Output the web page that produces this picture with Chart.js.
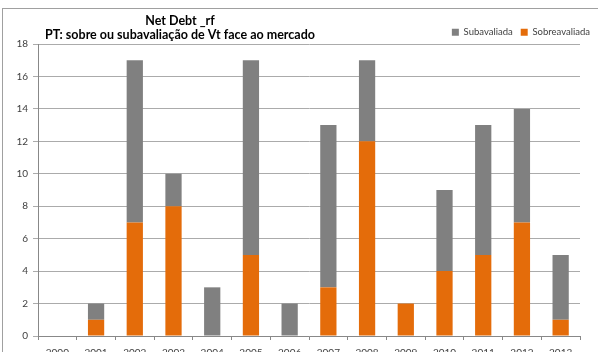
<!DOCTYPE html>
<html>
<head>
<meta charset="utf-8">
<script src="https://cdn.jsdelivr.net/npm/chart.js@4/dist/chart.umd.min.js"></script>
<style>
  html, body { margin: 0; padding: 0; background: #fff; overflow: hidden; }
  #wrap { position: relative; width: 598px; height: 352px; overflow: hidden; }
  #frame { position: absolute; left: 2px; top: 8px; width: 700px; height: 400px;
           border-left: 1px solid #a0a0a0; border-top: 1px solid #a0a0a0; pointer-events: none; }
  canvas { position: absolute; left: 0; top: 0; }
</style>
</head>
<body>
<div id="wrap">
  <canvas id="c" width="598" height="366"></canvas>
  <div id="frame"></div>
</div>
<script>
// Number of companies per year, split by valuation versus market
const years = ['2000', '2001', '2002', '2003', '2004', '2005', '2006',
               '2007', '2008', '2009', '2010', '2011', '2012', '2013'];
const sobreavaliada = [0, 1, 7, 8, 0, 5, 0, 3, 12, 2, 4, 5, 7, 1];
const subavaliada   = [0, 1, 10, 2, 3, 12, 2, 10, 5, 0, 5, 8, 7, 4];
const titleText = 'Net Debt _rf';
const subtitleText = 'PT: sobre ou subavaliação de Vt face ao mercado';

const FONT = 'Lato, "Open Sans", sans-serif';

// Headline text sits above the plot, left of the legend
const headingPlugin = {
  id: 'heading',
  afterDraw(chart) {
    const ctx = chart.ctx;
    ctx.save();
    ctx.fillStyle = '#000';
    ctx.textAlign = 'center';
    ctx.textBaseline = 'alphabetic';
    ctx.font = 'bold 12.5px ' + FONT;
    ctx.fillText(titleText, 180, 25);
    ctx.fillText(subtitleText, 180, 39);
    ctx.restore();
  }
};

new Chart(document.getElementById('c'), {
  type: 'bar',
  data: {
    labels: years,
    datasets: [
      { label: 'Sobreavaliada', data: sobreavaliada, backgroundColor: '#e46c0a',
        borderWidth: 0, barPercentage: 0.42, categoryPercentage: 1 },
      { label: 'Subavaliada', data: subavaliada, backgroundColor: '#808080',
        borderWidth: 0, barPercentage: 0.42, categoryPercentage: 1 }
    ]
  },
  options: {
    responsive: false,
    animation: false,
    layout: { padding: { left: 0, right: 0, top: 19.5, bottom: 0 } },
    plugins: {
      legend: {
        position: 'top',
        align: 'end',
        reverse: true,
        maxHeight: 24.5,
        labels: {
          boxWidth: 7, boxHeight: 7, padding: 8,
          color: '#404040',
          font: { family: FONT, size: 9.5 }
        }
      },
      title: { display: false },
      tooltip: { enabled: false }
    },
    scales: {
      x: {
        stacked: true,
        grid: { display: true, drawOnChartArea: false, drawTicks: true, tickLength: 4,
                offset: true, color: '#888' },
        border: { display: true, color: '#888' },
        ticks: { color: '#404040', font: { family: FONT, size: 10 }, padding: 7,
                 maxRotation: 0, autoSkip: false },
        afterFit(scale) { scale.height = 30; }
      },
      y: {
        stacked: true,
        min: 0, max: 18,
        grid: { color: '#ababab', drawTicks: true, tickLength: 5 },
        border: { display: true, color: '#888' },
        ticks: { stepSize: 2, color: '#404040', font: { family: FONT, size: 10 }, padding: 5 },
        afterFit(scale) { scale.width = 38; }
      },
      gutter: {
        position: 'right',
        display: true,
        grid: { display: false },
        border: { display: false },
        ticks: { display: false },
        afterFit(scale) { scale.width = 18; }
      }
    }
  },
  plugins: [headingPlugin]
});
</script>
</body>
</html>
